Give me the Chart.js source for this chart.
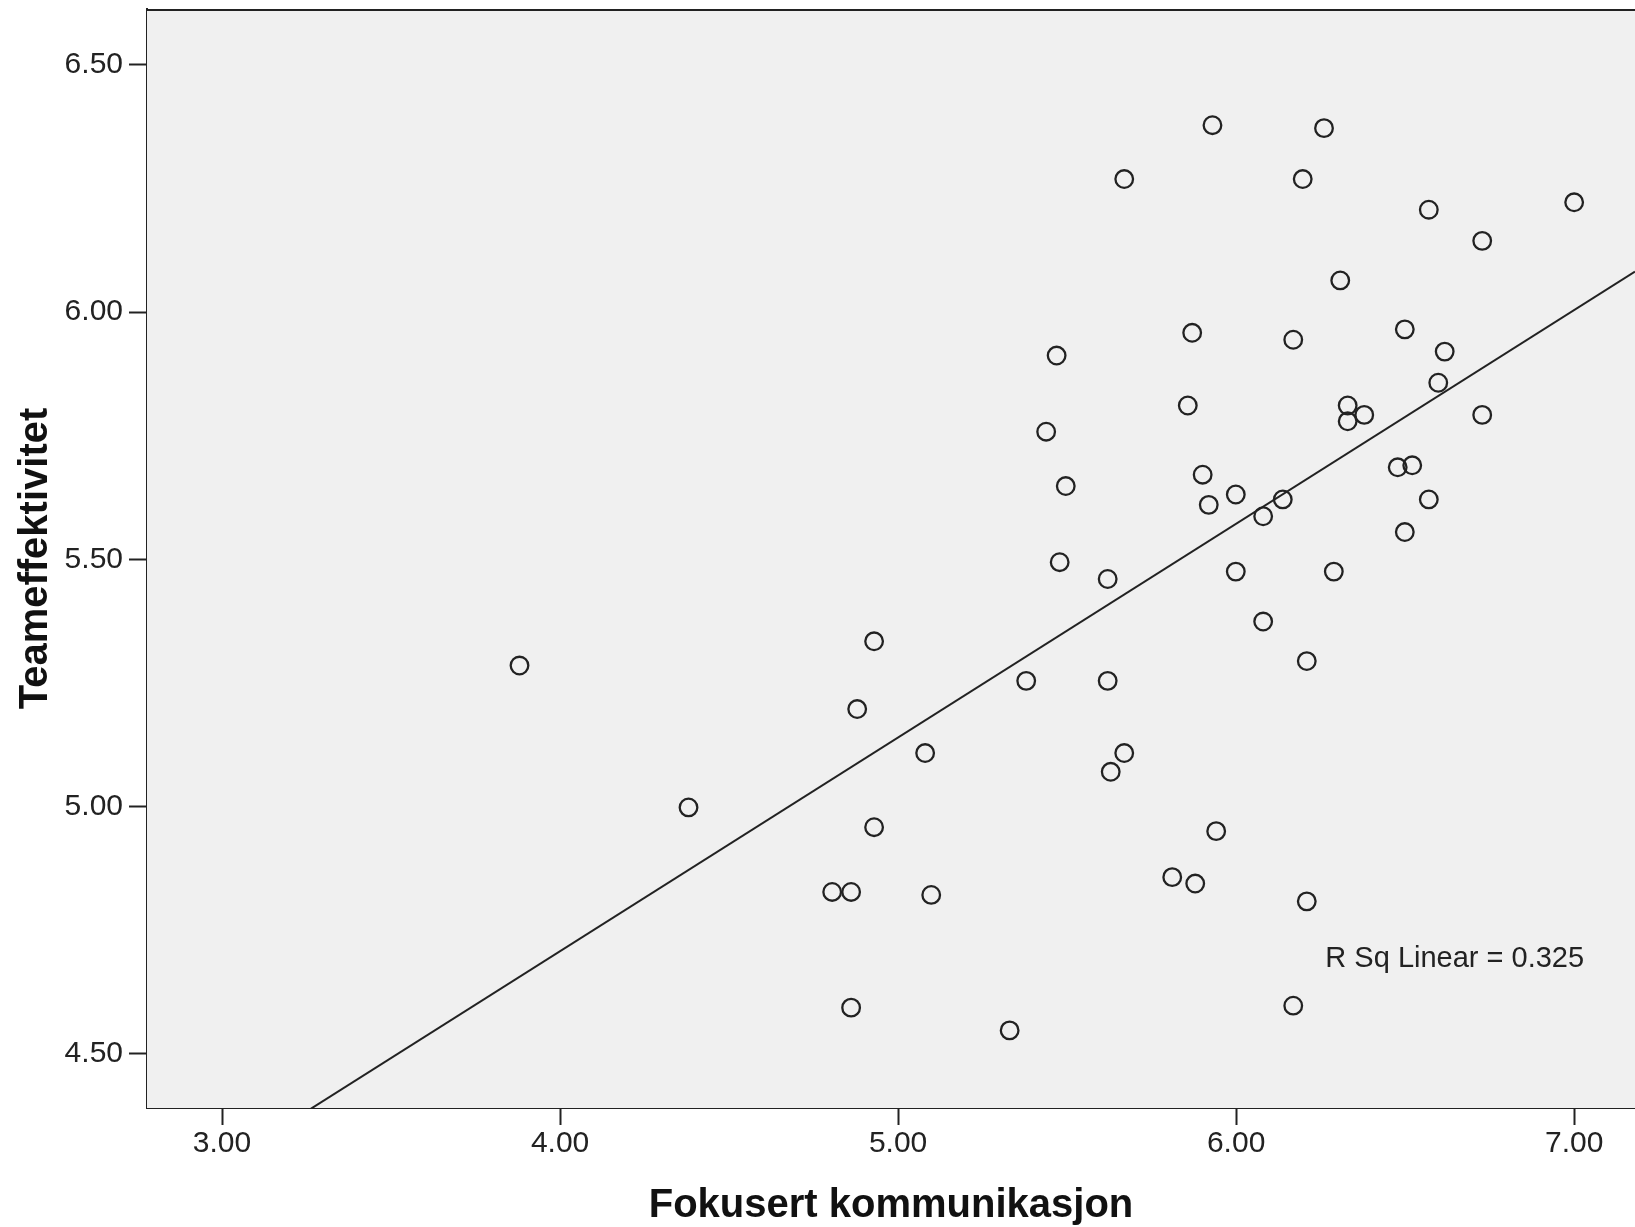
<!DOCTYPE html>
<html>
<head>
<meta charset="utf-8">
<title>Teameffektivitet vs Fokusert kommunikasjon</title>
<script src="https://cdn.jsdelivr.net/npm/chart.js@4.4.1/dist/chart.umd.min.js"></script>
<style>
  html, body { margin: 0; padding: 0; background: #fff; }
  canvas { display: block; }
</style>
</head>
<body>
<canvas id="scatter" width="1635" height="1227"></canvas>
<script>
// data
const fokusert = [
  5.93, 6.26, 5.669, 6.197, 6.57, 7.0, 6.728, 6.308, 5.87, 6.169,
  6.499, 6.617, 5.469, 6.598, 5.857, 6.33, 6.379, 6.33, 6.728, 5.438,
  6.478, 6.521, 5.901, 5.496, 5.999, 5.919, 6.138, 6.57, 6.08, 6.499,
  5.478, 5.999, 6.289, 5.62, 6.08, 4.929, 3.88, 6.209, 5.379, 5.62,
  4.879, 5.08, 5.669, 5.629, 4.38, 4.929, 5.941, 5.811, 5.879, 4.805,
  4.861, 5.098, 6.209, 4.861, 6.169, 5.33
];
const teameffektivitet = [
  6.378, 6.372, 6.269, 6.269, 6.207, 6.222, 6.144, 6.064, 5.958, 5.944,
  5.965, 5.92, 5.912, 5.857, 5.811, 5.811, 5.792, 5.779, 5.792, 5.758,
  5.686, 5.69, 5.671, 5.648, 5.631, 5.61, 5.621, 5.621, 5.587, 5.555,
  5.494, 5.475, 5.475, 5.46, 5.374, 5.334, 5.285, 5.294, 5.254, 5.254,
  5.197, 5.108, 5.108, 5.07, 4.998, 4.958, 4.95, 4.857, 4.844, 4.827,
  4.827, 4.821, 4.808, 4.593, 4.597, 4.547
];
const xTicks = [3, 4, 5, 6, 7];
const yTicks = [4.5, 5.0, 5.5, 6.0, 6.5];
const xRange = [2.778, 7.18];
const yRange = [4.39, 6.613];

// fitted line
const fitIntercept = 2.978;
const fitSlope = 0.4323;
const rSqText = 'R Sq Linear = 0.325';
const rSqAnchor = [6.264, 4.675];

const FONT = '"Liberation Sans", Arial, sans-serif';
const INK = '#222';

const points = fokusert.map((x, i) => ({ x: x, y: teameffektivitet[i] }));
const fitLine = xRange.map(x => ({ x: x, y: fitIntercept + fitSlope * x }));

const plotFrame = {
  id: 'plotFrame',
  beforeDatasetsDraw(chart) {
    const { ctx, chartArea: a } = chart;
    ctx.save();
    ctx.fillStyle = '#f0f0f0';
    ctx.fillRect(a.left, a.top, a.right - a.left, a.bottom - a.top);
    ctx.strokeStyle = INK;
    ctx.lineWidth = 2;
    ctx.beginPath();
    ctx.moveTo(a.left, a.top + 1);
    ctx.lineTo(a.right, a.top + 1);
    ctx.stroke();
    ctx.restore();
  },
  afterDatasetsDraw(chart) {
    const { ctx, scales } = chart;
    ctx.save();
    ctx.font = '29px ' + FONT;
    ctx.fillStyle = INK;
    ctx.textAlign = 'left';
    ctx.textBaseline = 'alphabetic';
    ctx.fillText(rSqText, scales.x.getPixelForValue(rSqAnchor[0]), scales.y.getPixelForValue(rSqAnchor[1]));
    ctx.restore();
  }
};

new Chart(document.getElementById('scatter'), {
  type: 'scatter',
  data: {
    datasets: [
      {
        data: points,
        pointStyle: 'circle',
        pointRadius: 8.8,
        pointBorderWidth: 2.3,
        pointBackgroundColor: 'rgba(0,0,0,0)',
        pointBorderColor: '#222',
        showLine: false
      },
      {
        data: fitLine,
        showLine: true,
        borderColor: INK,
        borderWidth: 2,
        pointRadius: 0
      }
    ]
  },
  options: {
    responsive: false,
    devicePixelRatio: 1,
    animation: false,
    events: [],
    layout: { autoPadding: false, padding: { top: 9, right: 0, bottom: 0, left: 0 } },
    plugins: { legend: { display: false }, tooltip: { enabled: false } },
    scales: {
      x: {
        type: 'linear',
        min: xRange[0],
        max: xRange[1],
        afterBuildTicks: s => { s.ticks = xTicks.map(v => ({ value: v })); },
        afterFit: s => { s.height = 119; s.paddingLeft = 0; s.paddingRight = 0; },
        grid: { drawOnChartArea: false, drawTicks: true, tickLength: 17, tickWidth: 2, tickColor: INK },
        border: { display: true, color: INK, width: 2 },
        ticks: {
          padding: 1,
          color: INK,
          font: { family: FONT, size: 30 },
          callback: v => v.toFixed(2)
        },
        title: {
          display: true,
          text: 'Fokusert kommunikasjon',
          color: '#111',
          font: { family: FONT, size: 40, weight: 'bold', lineHeight: 1 },
          padding: { top: 0, bottom: 1 }
        }
      },
      y: {
        type: 'linear',
        min: yRange[0],
        max: yRange[1],
        afterBuildTicks: s => { s.ticks = yTicks.map(v => ({ value: v })); },
        afterFit: s => { s.width = 147; s.paddingTop = 0; s.paddingBottom = 0; },
        grid: { drawOnChartArea: false, drawTicks: true, tickLength: 18, tickWidth: 2, tickColor: INK },
        border: { display: true, color: INK, width: 2 },
        ticks: {
          padding: 6,
          color: INK,
          font: { family: FONT, size: 30 },
          callback: v => v.toFixed(2)
        },
        title: {
          display: true,
          text: 'Teameffektivitet',
          color: '#111',
          font: { family: FONT, size: 40, weight: 'bold', lineHeight: 1 },
          padding: { top: 16, bottom: 0 }
        }
      }
    }
  },
  plugins: [plotFrame]
});
</script>
</body>
</html>
